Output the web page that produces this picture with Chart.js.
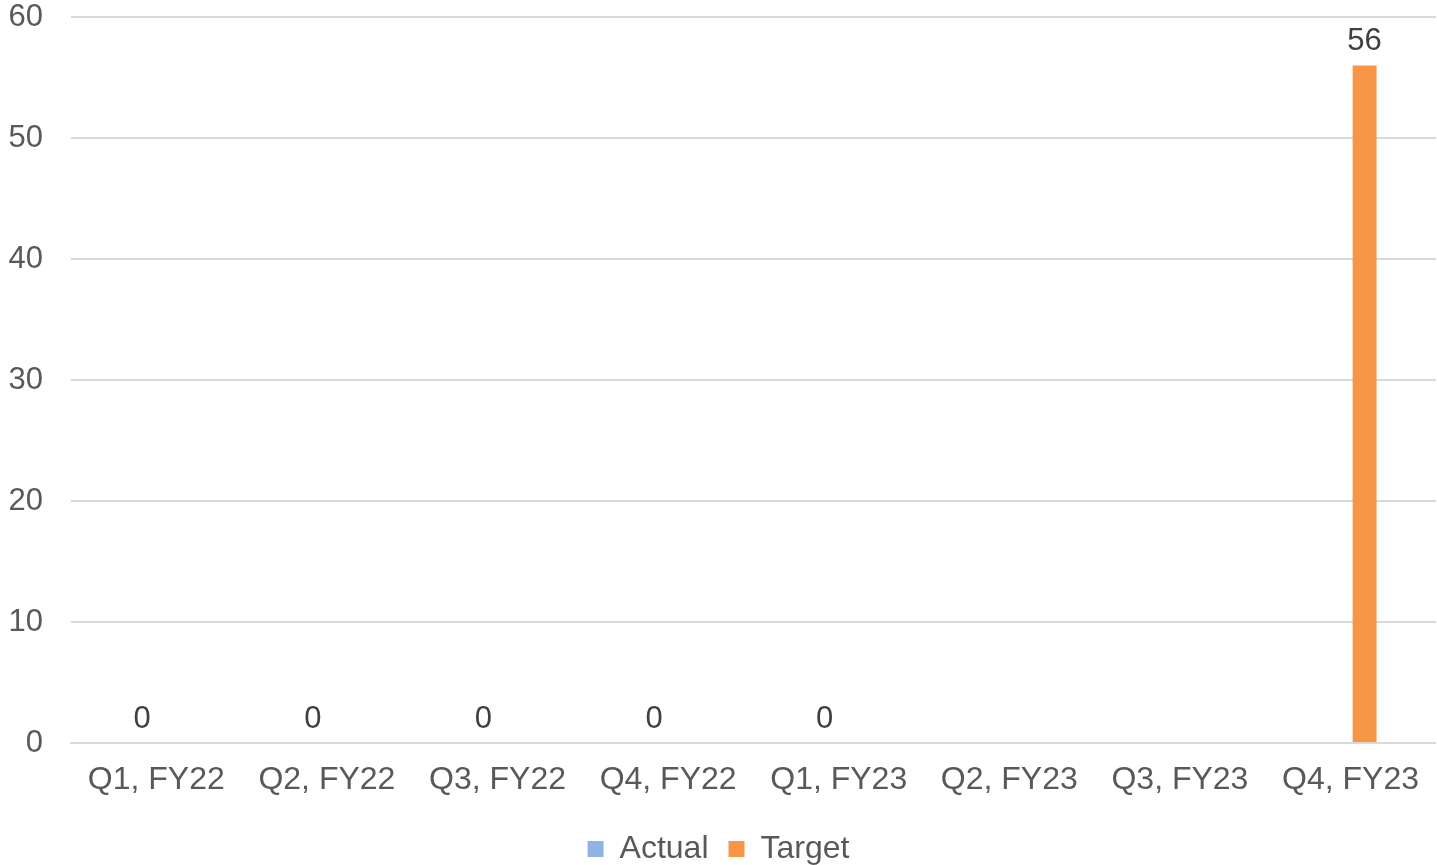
<!DOCTYPE html>
<html>
<head>
<meta charset="utf-8">
<script src="https://cdn.jsdelivr.net/npm/chart.js@4"></script>
<style>
  html, body { margin: 0; padding: 0; background: #fff; }
  #wrap { width: 1437px; height: 865px; }
</style>
</head>
<body>
<div id="wrap"><canvas id="barChart"></canvas></div>
<script>
const categories = ['Q1, FY22', 'Q2, FY22', 'Q3, FY22', 'Q4, FY22', 'Q1, FY23', 'Q2, FY23', 'Q3, FY23', 'Q4, FY23'];
const actualValues = [0, 0, 0, 0, 0, null, null, null];
const targetValues = [null, null, null, null, null, null, null, 56];
const yTicks = [0, 10, 20, 30, 40, 50, 60];

Chart.defaults.font.family = '"Liberation Sans", Arial, sans-serif';
Chart.defaults.color = '#595959';

// draws the value above each bar
const valueLabels = {
    id: 'valueLabels',
    afterDatasetsDraw(chart) {
        const ctx = chart.ctx;
        ctx.save();
        ctx.font = '31px "Liberation Sans", Arial, sans-serif';
        ctx.fillStyle = '#404040';
        ctx.textAlign = 'center';
        ctx.textBaseline = 'bottom';
        chart.data.datasets.forEach((ds, i) => {
            const meta = chart.getDatasetMeta(i);
            meta.data.forEach((bar, j) => {
                const v = ds.data[j];
                if (v === null || v === undefined) return;
                ctx.fillText(String(v), bar.x, bar.y - 8);
            });
        });
        ctx.restore();
    }
};

const ctx = document.getElementById('barChart').getContext('2d');
const barChart = new Chart(ctx, {
    type: 'bar',
    data: {
        labels: categories,
        datasets: [{
            label: 'Actual',
            data: actualValues,
            backgroundColor: '#8EB4E3',
            barPercentage: 0.85,
            categoryPercentage: 0.33
        },
        {
            label: 'Target',
            data: targetValues,
            backgroundColor: '#F79646',
            barPercentage: 0.85,
            categoryPercentage: 0.33
        }]
    },
    options: {
        responsive: true,
        maintainAspectRatio: false,
        animation: false,
        layout: {
            padding: { top: 17, right: 0, left: 0, bottom: 0 }
        },
        plugins: {
            tooltip: { enabled: false },
            legend: {
                position: 'bottom',
                maxHeight: 52,
                labels: {
                    boxWidth: 16,
                    boxHeight: 16,
                    padding: 20,
                    color: '#595959',
                    font: { size: 32, lineHeight: 1 }
                }
            }
        },
        scales: {
            x: {
                afterFit: (scale) => { scale.height = 70; },
                grid: { display: false, drawTicks: false },
                border: { color: '#d9d9d9', width: 2 },
                ticks: {
                    padding: 18,
                    color: '#595959',
                    font: { size: 32 },
                    maxRotation: 0
                }
            },
            y: {
                min: 0,
                max: 60,
                afterFit: (scale) => { scale.width = 71; scale.paddingTop = 0; },
                afterBuildTicks: (scale) => { scale.ticks = yTicks.map(v => ({ value: v })); },
                grid: { color: '#d9d9d9', lineWidth: 2, drawTicks: false },
                border: { display: false },
                ticks: {
                    padding: 28,
                    color: '#595959',
                    font: { size: 31 }
                }
            }
        }
    },
    plugins: [valueLabels]
});
</script>
</body>
</html>
